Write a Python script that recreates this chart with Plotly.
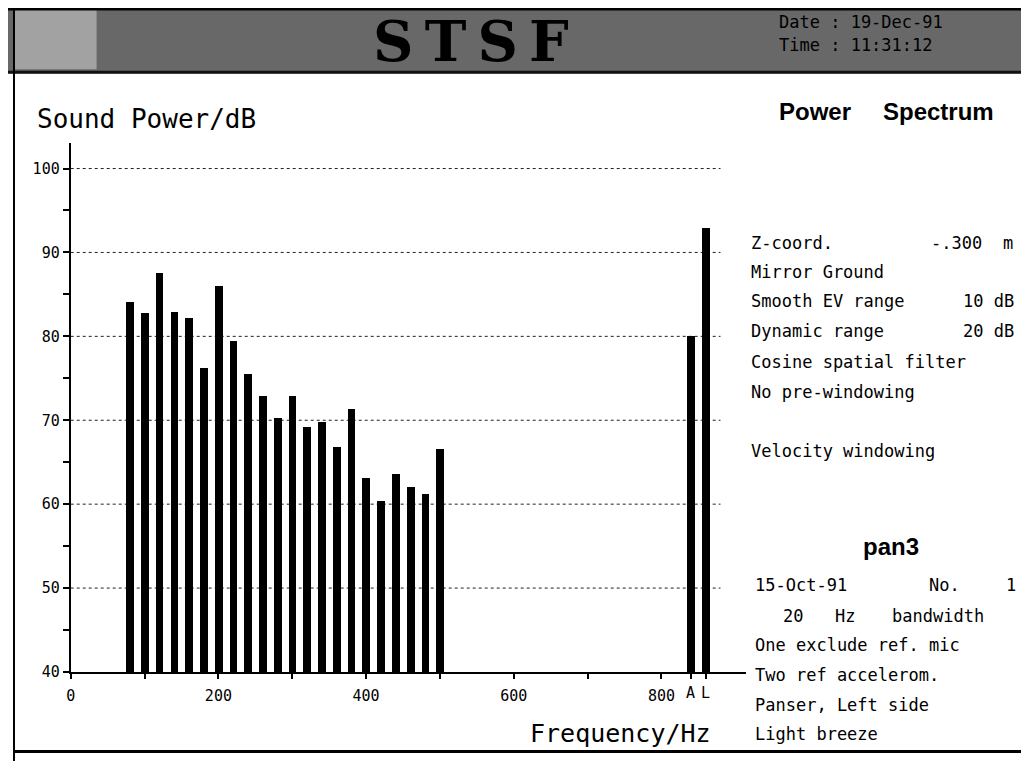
import plotly.graph_objects as go

# ---------------- data ----------------
freqs = [80, 100, 120, 140, 160, 180, 200, 220, 240, 260, 280,
         300, 320, 340, 360, 380, 400, 420, 440, 460, 480, 500]
power_db = [84.0, 82.7, 87.5, 82.9, 82.1, 76.2, 85.9, 79.4, 75.5, 72.8, 70.2,
            72.9, 69.2, 69.8, 66.8, 71.3, 63.1, 60.3, 63.5, 62.0, 61.2, 66.5]
total_freqs = [840, 860]          # "A" and "L" totals
total_db = [80.0, 92.9]
total_labels = ["A", "L"]

x_tickvals = [0, 100, 200, 300, 400, 500, 600, 700, 800]
x_ticktext = ["0", "", "200", "", "400", "", "600", "", "800"]
y_tickvals = [40, 45, 50, 55, 60, 65, 70, 75, 80, 85, 90, 95, 100]
y_ticktext = ["40", "", "50", "", "60", "", "70", "", "80", "", "90", "", "100"]
grid_levels = [50, 60, 70, 80, 90, 100]

# window is 1029x770; the page body has an 8px margin
WIN_W, WIN_H = 1029, 770
OFF = 8
W, H = WIN_W - 2 * OFF, WIN_H - 2 * OFF


def X(px):
    return (px - OFF) / W


def Y(py):
    return 1 - (py - OFF) / H


MONO = "DejaVu Sans Mono"
BOLD = "Liberation Sans"

fig = go.Figure()

fig.add_trace(go.Bar(x=freqs, y=power_db, width=10.5, marker=dict(color="black", line=dict(width=0)),
                     showlegend=False, hoverinfo="x+y"))
fig.add_trace(go.Bar(x=total_freqs, y=total_db, width=10.5, marker=dict(color="black", line=dict(width=0)),
                     showlegend=False, hoverinfo="x+y"))

# axis arrow heads
fig.add_trace(go.Scatter(x=[0], y=[103.2], mode="markers", cliponaxis=False,
                         marker=dict(symbol="triangle-up", size=15, color="black"),
                         showlegend=False, hoverinfo="skip"))
fig.add_trace(go.Scatter(x=[918], y=[40], mode="markers", cliponaxis=False,
                         marker=dict(symbol="triangle-right", size=15, color="black"),
                         showlegend=False, hoverinfo="skip"))

shapes = []
# dotted grid lines
for g in grid_levels:
    shapes.append(dict(type="line", xref="x", yref="y", x0=0, x1=880, y0=g, y1=g,
                       line=dict(color="#222", width=1, dash="dot"), layer="below"))

# header band
shapes += [
    dict(type="rect", xref="paper", yref="paper", x0=X(0), x1=X(WIN_W), y0=Y(74), y1=Y(0),
         fillcolor="#686868", line=dict(width=0), layer="below"),
    dict(type="rect", xref="paper", yref="paper", x0=X(8), x1=X(92), y0=Y(70), y1=Y(5),
         fillcolor="#a2a2a2", line=dict(width=0), layer="below"),
    dict(type="line", xref="paper", yref="paper", x0=X(0), x1=X(WIN_W), y0=Y(9), y1=Y(9),
         line=dict(color="black", width=3)),
    dict(type="line", xref="paper", yref="paper", x0=X(0), x1=X(WIN_W), y0=Y(73), y1=Y(73),
         line=dict(color="#111", width=3)),
    # frame
    dict(type="line", xref="paper", yref="paper", x0=X(9), x1=X(9), y0=Y(0), y1=Y(WIN_H),
         line=dict(color="black", width=2)),
    dict(type="line", xref="paper", yref="paper", x0=X(8), x1=X(WIN_W), y0=Y(760.5), y1=Y(760.5),
         line=dict(color="black", width=3)),
]

annotations = []


def txt(text, x, y, size=17, anchor="left", family=MONO, bold=False, color="black"):
    annotations.append(dict(text=f"<b>{text}</b>" if bold else text, x=X(x), y=Y(y),
                            xref="paper", yref="paper", showarrow=False,
                            xanchor=anchor, yanchor="middle",
                            font=dict(family=family, size=size, color=color)))


# header texts
txt("S\u2009T\u2009S\u2009F", 468, 41, size=56, anchor="center", family="DejaVu Serif", bold=True)
txt("Date : 19-Dec-91", 776, 22, size=17)
txt("Time : 11:31:12", 776, 45, size=17)

# axis titles
txt("Sound Power/dB", 30, 120, size=26)
txt("Frequency/Hz", 526, 742, size=25)

# A / L tick labels
for f, lab in zip(total_freqs, total_labels):
    annotations.append(dict(text=lab, x=f, y=Y(680), xref="x", yref="paper", yanchor="top",
                            yshift=-10, showarrow=False,
                            font=dict(family=MONO, size=15, color="black")))

# right panel
txt("Power", 776, 113, size=24, family=BOLD, bold=True)
txt("Spectrum", 880, 113, size=24, family=BOLD, bold=True)

txt("Z-coord.", 748, 246)
txt("-.300", 984, 246, anchor="right")
txt("m", 1008, 246, anchor="center")
txt("Mirror Ground", 748, 275)
txt("Smooth EV range", 748, 305)
txt("10 dB", 1016, 305, anchor="right")
txt("Dynamic range", 748, 335)
txt("20 dB", 1016, 335, anchor="right")
txt("Cosine spatial filter", 748, 366)
txt("No pre-windowing", 748, 397)
txt("Velocity windowing", 748, 456)

txt("pan3", 890, 553, size=24, anchor="center", family=BOLD, bold=True)
txt("15-Oct-91", 752, 592)
txt("No.", 927, 592)
txt("1", 1011, 592, anchor="center")
txt("20", 780, 623)
txt("Hz", 832, 623)
txt("bandwidth", 889, 623)
txt("One exclude ref. mic", 752, 653)
txt("Two ref accelerom.", 752, 683)
txt("Panser, Left side", 752, 713)
txt("Light breeze", 752, 743)

fig.update_layout(
    width=W, height=H,
    margin=dict(l=0, r=0, t=0, b=0),
    paper_bgcolor="white", plot_bgcolor="white",
    bargap=0,
    shapes=shapes, annotations=annotations,
    xaxis=dict(domain=[X(66), X(745)], range=[0, 915], showgrid=False, zeroline=False,
               showline=True, linecolor="black", linewidth=2,
               tickmode="array", tickvals=x_tickvals + total_freqs, ticktext=x_ticktext + ["", ""],
               ticks="outside", ticklen=5, tickwidth=1.5, tickcolor="black",
               ticklabelstandoff=4,
               tickfont=dict(family=MONO, size=15, color="black")),
    yaxis=dict(domain=[Y(680), Y(145)], range=[40, 103], showgrid=False, zeroline=False,
               showline=True, linecolor="black", linewidth=2,
               tickmode="array", tickvals=y_tickvals, ticktext=y_ticktext,
               ticks="outside", ticklen=6, tickwidth=1.5, tickcolor="black",
               tickfont=dict(family=MONO, size=15, color="black")),
)

fig.write_html("out.html")
